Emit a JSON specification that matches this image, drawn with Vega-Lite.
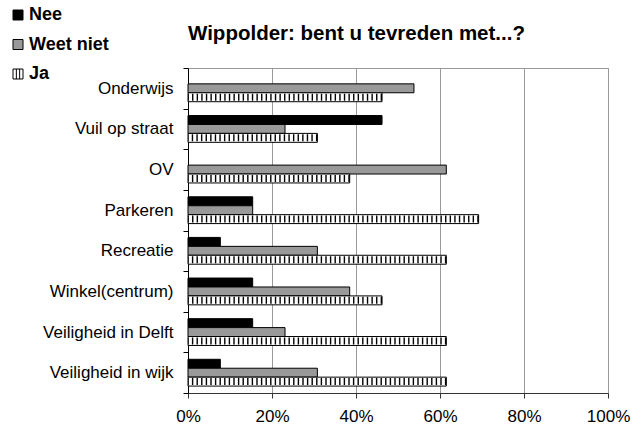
{
  "$schema": "https://vega.github.io/schema/vega-lite/v6.json",
  "width": 420,
  "height": 325,
  "autosize": {"type": "none"},
  "padding": {"left": 188, "top": 68, "right": 28, "bottom": 32},
  "background": "white",
  "config": {
    "font": "Liberation Sans",
    "view": {"stroke": "#999", "strokeWidth": 1}
  },
  "title": {
    "text": "Wippolder: bent u tevreden met...?",
    "anchor": "start",
    "frame": "group",
    "fontSize": 20.5,
    "fontWeight": "bold",
    "font": "Liberation Sans",
    "color": "#000",
    "baseline": "alphabetic",
    "offset": -54
  },
  "data": {
    "values": [
      {"categorie": "Onderwijs", "antwoord": "Weet niet", "pct": 53.8},
      {"categorie": "Onderwijs", "antwoord": "Ja", "pct": 46.2},
      {"categorie": "Vuil op straat", "antwoord": "Nee", "pct": 46.2},
      {"categorie": "Vuil op straat", "antwoord": "Weet niet", "pct": 23.1},
      {"categorie": "Vuil op straat", "antwoord": "Ja", "pct": 30.8},
      {"categorie": "OV", "antwoord": "Weet niet", "pct": 61.5},
      {"categorie": "OV", "antwoord": "Ja", "pct": 38.5},
      {"categorie": "Parkeren", "antwoord": "Nee", "pct": 15.4},
      {"categorie": "Parkeren", "antwoord": "Weet niet", "pct": 15.4},
      {"categorie": "Parkeren", "antwoord": "Ja", "pct": 69.2},
      {"categorie": "Recreatie", "antwoord": "Nee", "pct": 7.7},
      {"categorie": "Recreatie", "antwoord": "Weet niet", "pct": 30.8},
      {"categorie": "Recreatie", "antwoord": "Ja", "pct": 61.5},
      {"categorie": "Winkel(centrum)", "antwoord": "Nee", "pct": 15.4},
      {"categorie": "Winkel(centrum)", "antwoord": "Weet niet", "pct": 38.5},
      {"categorie": "Winkel(centrum)", "antwoord": "Ja", "pct": 46.2},
      {"categorie": "Veiligheid in Delft", "antwoord": "Nee", "pct": 15.4},
      {"categorie": "Veiligheid in Delft", "antwoord": "Weet niet", "pct": 23.1},
      {"categorie": "Veiligheid in Delft", "antwoord": "Ja", "pct": 61.5},
      {"categorie": "Veiligheid in wijk", "antwoord": "Nee", "pct": 7.7},
      {"categorie": "Veiligheid in wijk", "antwoord": "Weet niet", "pct": 30.8},
      {"categorie": "Veiligheid in wijk", "antwoord": "Ja", "pct": 61.5}
    ]
  },
  "layer": [
    {
      "mark": {"type": "bar", "stroke": "#000", "strokeWidth": 1},
      "encoding": {
        "y": {
          "field": "categorie",
          "type": "nominal",
          "sort": ["Onderwijs", "Vuil op straat", "OV", "Parkeren", "Recreatie", "Winkel(centrum)", "Veiligheid in Delft", "Veiligheid in wijk"],
          "scale": {"paddingInner": 0, "paddingOuter": 0},
          "axis": {
            "title": null,
            "labelFontSize": 17,
            "labelColor": "#000",
            "tickBand": "extent",
            "tickSize": 5,
            "tickColor": "#000",
            "domainColor": "#000",
            "labelPadding": 10,
            "grid": false
          }
        },
        "yOffset": {
          "field": "antwoord",
          "type": "nominal",
          "sort": ["Nee", "Weet niet", "Ja"],
          "scale": {"paddingInner": 0, "paddingOuter": 0.774}
        },
        "x": {
          "field": "pct",
          "type": "quantitative",
          "scale": {"domain": [0, 100]},
          "axis": {
            "title": null,
            "values": [0, 20, 40, 60, 80, 100],
            "labelExpr": "datum.value + '%'",
            "labelFlush": false,
            "labelFontSize": 17,
            "labelColor": "#000",
            "labelPadding": 10,
            "grid": true,
            "gridColor": "#999",
            "gridWidth": 1,
            "domainColor": "#333",
            "tickColor": "#333",
            "tickSize": 5
          }
        },
        "fill": {
          "field": "antwoord",
          "type": "nominal",
          "sort": ["Nee", "Weet niet", "Ja"],
          "scale": {"domain": ["Nee", "Weet niet", "Ja"], "range": ["#000000", "#999999", "#ffffff"]},
          "legend": {
            "title": null,
            "orient": "none",
            "legendX": -179,
            "legendY": -62,
            "symbolType": "square",
            "symbolSize": 100,
            "symbolStrokeColor": "#000",
            "symbolStrokeWidth": 1,
            "labelFontSize": 18,
            "labelFontWeight": "bold",
            "labelColor": "#000",
            "labelOffset": 2,
            "rowPadding": 11.5,
            "encode": {
              "symbols": {
                "update": {
                  "shape": [
                    {"test": "datum.value === 'Ja'", "value": "M-1,-1H1V1H-1Z M-0.33,-1V1 M0.33,-1V1"},
                    {"value": "square"}
                  ]
                }
              }
            }
          }
        }
      }
    },
    {
      "transform": [{"filter": "datum.antwoord === 'Ja'"}],
      "mark": {"type": "rule", "color": "#000", "strokeWidth": 7, "strokeDash": [1.4, 3.2]},
      "encoding": {
        "y": {
          "field": "categorie",
          "type": "nominal",
          "bandPosition": 0.7199,
          "sort": ["Onderwijs", "Vuil op straat", "OV", "Parkeren", "Recreatie", "Winkel(centrum)", "Veiligheid in Delft", "Veiligheid in wijk"]
        },
        "x": {"field": "pct", "type": "quantitative"},
        "x2": {"datum": 0}
      }
    }
  ]
}
